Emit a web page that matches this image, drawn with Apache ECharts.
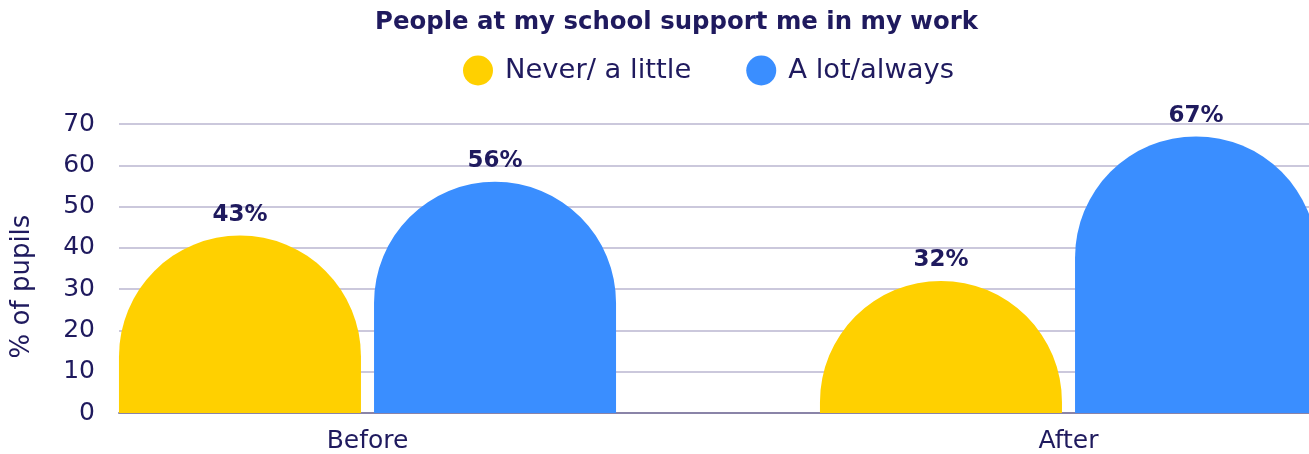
<!DOCTYPE html>
<html>
<head>
<meta charset="utf-8">
<script src="https://cdn.jsdelivr.net/npm/echarts@6/dist/echarts.min.js"></script>
<style>html,body{margin:0;padding:0;background:#fff;}#c{width:1309px;height:454px;}</style>
</head>
<body>
<div id="c"></div>
<script>
const categories = ["Before", "After"];
const seriesNames = ["Never/ a little", "A lot/always"];
const neverValues = [43, 32];
const alotValues = [56, 67];
const yTicks = [0, 10, 20, 30, 40, 50, 60, 70];

const textColor = '#1f1a5e';
const fontFamily = 'DejaVu Sans';
const chart = echarts.init(document.getElementById('c'));
const labelCfg = {
  show: true, position: 'top', distance: 9,
  formatter: p => p.value + '%',
  color: textColor, fontWeight: 'bold', fontSize: 23, fontFamily
};
chart.setOption({
  animation: false,
  title: {
    text: 'People at my school support me in my work',
    left: 370, top: 6,
    textStyle: { color: textColor, fontSize: 24.4, fontWeight: 'bold', fontFamily }
  },
  legend: {
    data: seriesNames, left: 463, top: 55.5, padding: 0,
    icon: 'circle', itemWidth: 30, itemHeight: 30, itemGap: 55,
    textStyle: { color: textColor, fontSize: 27.4, fontFamily, padding: [0, 0, 0, 7] }
  },
  grid: [
    { left: 119, right: 0, top: 124, bottom: 41 },
    { left: 367.5, right: 240.5, top: 124, bottom: 41 }
  ],
  xAxis: [
    { gridIndex: 0, type: 'value', min: 0, max: 1,
      axisLine: { show: true, onZero: false, lineStyle: { color: '#8a84a8', width: 2 } },
      axisTick: { show: false }, axisLabel: { show: false }, splitLine: { show: false } },
    { gridIndex: 1, type: 'category', data: categories, boundaryGap: false,
      axisLine: { show: false }, axisTick: { show: false },
      axisLabel: { color: textColor, fontSize: 25, fontFamily, margin: 16 } }
  ],
  yAxis: [
    { gridIndex: 0, type: 'value', min: yTicks[0], max: yTicks[yTicks.length - 1], interval: 10,
      name: '% of pupils', nameLocation: 'middle', nameGap: 84,
      nameTextStyle: { color: textColor, fontSize: 26, fontFamily, padding: [0, 36, 0, 0] },
      axisLine: { show: false }, axisTick: { show: false },
      axisLabel: { color: textColor, fontSize: 25, fontFamily, margin: 24 },
      splitLine: { lineStyle: { color: '#cbc8dc', width: 2 } } },
    { gridIndex: 1, type: 'value', min: 0, max: 70, show: false, splitLine: { show: false } }
  ],
  series: [
    { name: seriesNames[0], type: 'bar', xAxisIndex: 1, yAxisIndex: 1, data: neverValues, clip: false,
      barWidth: 242, barGap: '5.4%', itemStyle: { color: '#ffd000', borderRadius: [121, 121, 0, 0] },
      label: labelCfg },
    { name: seriesNames[1], type: 'bar', xAxisIndex: 1, yAxisIndex: 1, data: alotValues, clip: false,
      barWidth: 242, itemStyle: { color: '#3a8eff', borderRadius: [121, 121, 0, 0] },
      label: labelCfg }
  ]
});
</script>
</body>
</html>
